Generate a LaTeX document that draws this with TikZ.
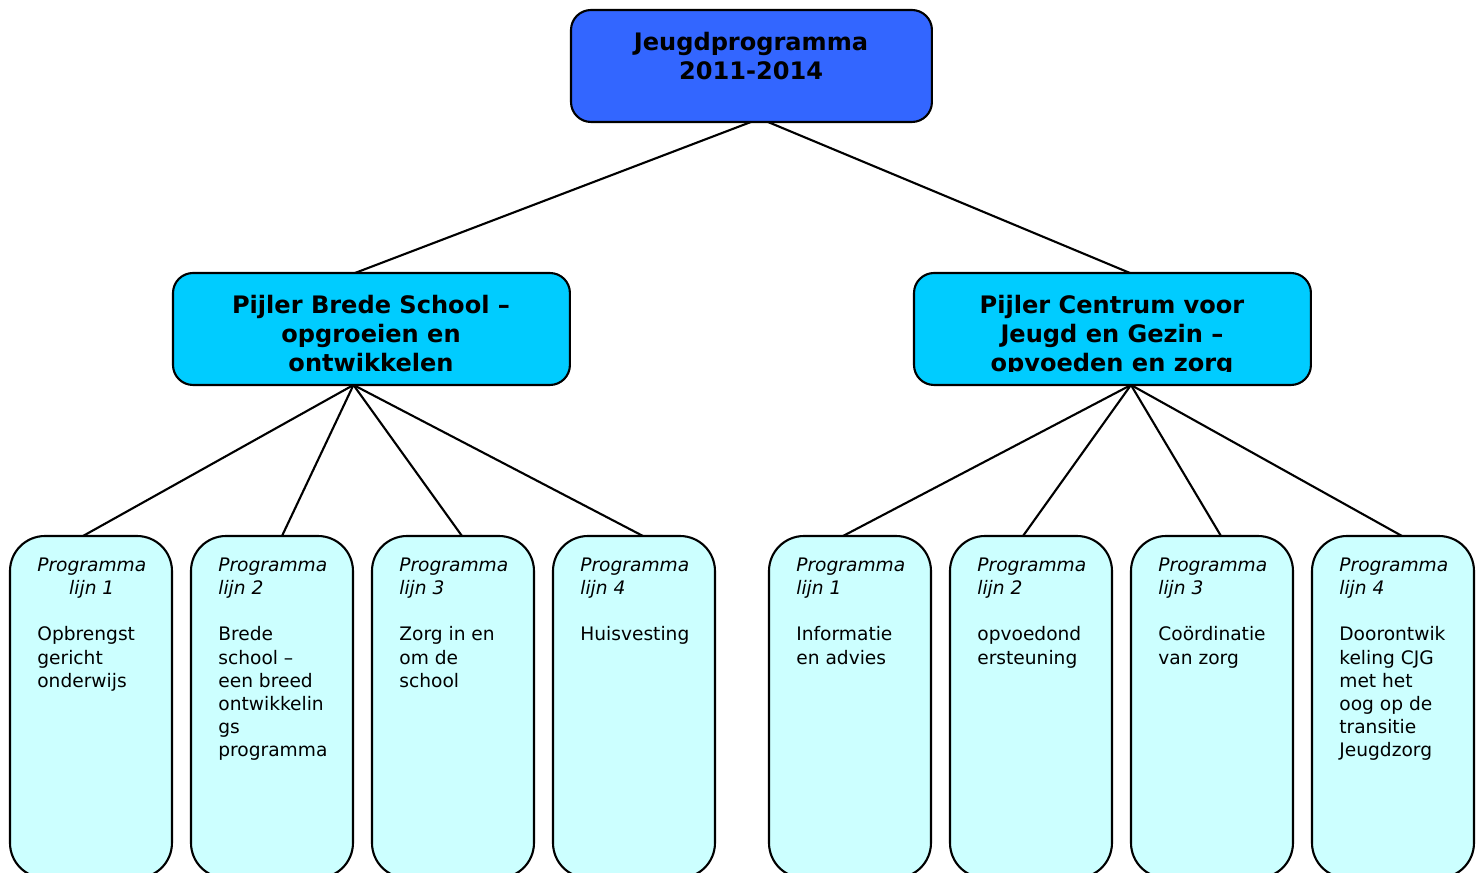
\documentclass[tikz,border=0pt]{standalone}
\usepackage{fontspec}
\setmainfont{DejaVu Sans}
\usepackage{calc}
\usetikzlibrary{calc}
\definecolor{topblue}{HTML}{3366FF}
\definecolor{pillarblue}{HTML}{00CCFF}
\definecolor{linecyan}{HTML}{CCFFFF}
\tikzset{
  box/.style={draw=black, line width=1.2pt, inner sep=0pt, outer sep=0pt, anchor=north west},
  topbox/.style={box, fill=topblue, rounded corners=0.4cm, minimum width=7.22cm, minimum height=2.24cm},
  pillarbox/.style={box, fill=pillarblue, rounded corners=0.4cm, minimum width=7.94cm, minimum height=2.24cm},
  linebox/.style={box, fill=linecyan, rounded corners=0.7cm, minimum width=3.24cm, minimum height=6.84cm},
  titletext/.style={font=\fontsize{13.7}{16.6}\selectfont\bfseries, align=center, inner sep=0pt, anchor=north},
  linetext/.style={font=\fontsize{10.6}{13.1}\selectfont, align=left, inner sep=0pt, anchor=north west},
  conn/.style={line width=1.2pt}
}
\newcommand{\pl}[1]{\textit{Programma}\\\textit{lijn #1}\\[13.1pt]}
\begin{document}
\begin{tikzpicture}[x=0.02cm,y=-0.02cm]
\useasboundingbox (0,0) rectangle (1483,872);
% boxes
\node[topbox] (top) at (571,10) {};
\node[pillarbox] (p1) at (173,273) {};
\node[pillarbox] (p2) at (914,273) {};
\node[linebox] (b1) at (10,536) {};
\node[linebox] (b2) at (191,536) {};
\node[linebox] (b3) at (372,536) {};
\node[linebox] (b4) at (553,536) {};
\node[linebox] (b5) at (769,536) {};
\node[linebox] (b6) at (950,536) {};
\node[linebox] (b7) at (1131,536) {};
\node[linebox] (b8) at (1312,536) {};
% texts
\node[titletext] (ttop) at (751,32) {Jeugdprogramma\\2011-2014};
\begin{scope}
\clip (150,280) rectangle (1330,371);
\node[titletext] (tp1) at (371,295) {Pijler Brede School --\\opgroeien en\\ontwikkelen};
\node[titletext] (tp2) at (1112,295) {Pijler Centrum voor\\Jeugd en Gezin --\\opvoeden en zorg};
\end{scope}
\node[linetext] (tb1) at (37,558) {\textit{Programma}\\\makebox[\widthof{\itshape Programma}][c]{\itshape lijn 1}\\[13.1pt]Opbrengst\\gericht\\onderwijs};
\node[linetext] (tb2) at (218,558) {\pl{2}Brede\\school --\\een breed\\ontwikkelin\\gs\\programma};
\node[linetext] (tb3) at (399,558) {\pl{3}Zorg in en\\om de\\school};
\node[linetext] (tb4) at (580,558) {\pl{4}Huisvesting};
\node[linetext] (tb5) at (796,558) {\pl{1}Informatie\\en advies};
\node[linetext] (tb6) at (977,558) {\pl{2}opvoedond\\ersteuning};
\node[linetext] (tb7) at (1158,558) {\pl{3}Coördinatie\\van zorg};
\node[linetext] (tb8) at (1339,558) {\pl{4}Doorontwik\\keling CJG\\met het\\oog op de\\transitie\\Jeugdzorg};
% connectors
\draw[conn] ($(top.south)+(-0.5,0)$) -- ($(p1.north)+(-16.5,0)$);
\draw[conn] ($(top.south)+(16.5,0)$) -- ($(p2.north)+(17.5,0)$);
\draw[conn] ($(p1.south)+(-18,0)$) -- ($(b1.north)+(-8,0)$);
\draw[conn] ($(p1.south)+(-18,0)$) -- ($(b2.north)+(10,0)$);
\draw[conn] ($(p1.south)+(-18,0)$) -- ($(b3.north)+(9,0)$);
\draw[conn] ($(p1.south)+(-18,0)$) -- ($(b4.north)+(9,0)$);
\draw[conn] ($(p2.south)+(18.5,0)$) -- ($(b5.north)+(-7,0)$);
\draw[conn] ($(p2.south)+(18.5,0)$) -- ($(b6.north)+(-8,0)$);
\draw[conn] ($(p2.south)+(18.5,0)$) -- ($(b7.north)+(9,0)$);
\draw[conn] ($(p2.south)+(18.5,0)$) -- ($(b8.north)+(9,0)$);
\end{tikzpicture}
\end{document}
